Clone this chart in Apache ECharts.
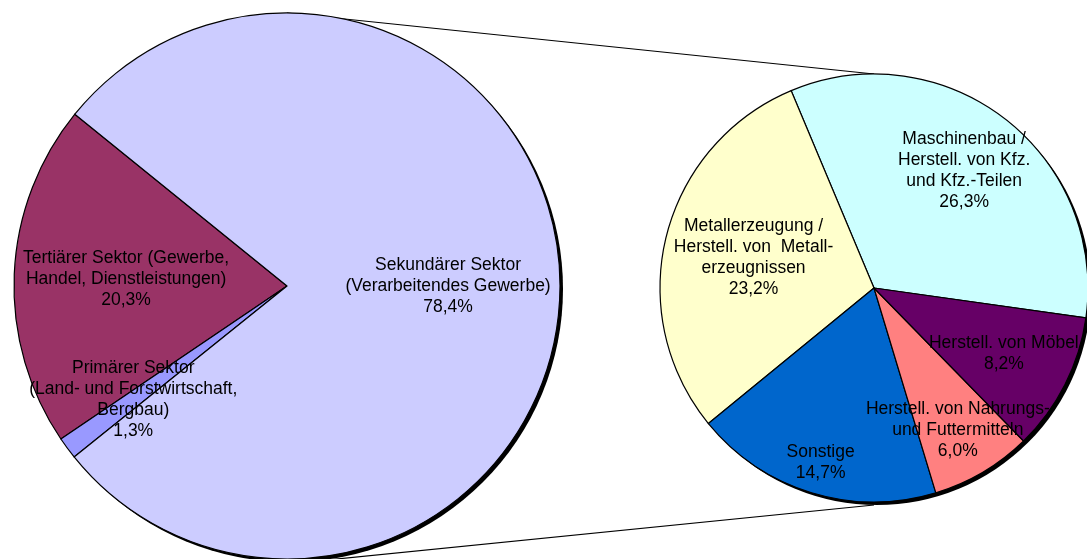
<!DOCTYPE html>
<html>
<head>
<meta charset="utf-8">
<script src="https://cdn.jsdelivr.net/npm/echarts@6/dist/echarts.min.js"></script>
<style>
  html, body { margin: 0; padding: 0; background: #fff; }
  #chart { width: 1087px; height: 559px; }
</style>
</head>
<body>
<div id="chart"></div>
<script>
// Gesamt: Anteile der Sektoren
const sectorNames = [
  "Tertiärer Sektor (Gewerbe,\nHandel, Dienstleistungen)",
  "Primärer Sektor\n(Land- und Forstwirtschaft,\nBergbau)",
  "Sekundärer Sektor\n(Verarbeitendes Gewerbe)"
];
const sectorValues = [20.3, 1.3, 78.4];
const sectorColors = ["#993366", "#9999FF", "#CCCCFF"];

// Aufteilung des sekundaeren Sektors
const branchNames = [
  "Maschinenbau /\nHerstell. von Kfz.\nund Kfz.-Teilen",
  "Metallerzeugung /\nHerstell. von  Metall-\nerzeugnissen",
  "Sonstige",
  "Herstell. von Nahrungs-\nund Futtermitteln",
  "Herstell. von Möbel"
];
const branchValues = [26.3, 23.2, 14.7, 6.0, 8.2];
const branchColors = ["#CCFFFF", "#FFFFCC", "#0066CC", "#FF8080", "#660066"];

// layout
const left = { cx: 287, cy: 286, r: 273, start: 141 };
const right = { cx: 874, cy: 288, r: 214, start: -8 };
const sectorLabelRadius = [0.59, 0.70, 0.59];
const branchLabelRadius = [0.69, 0.58, 0.855, 0.77, 0.68];
const shadow = 3;

function fmt(v) {
  return v.toFixed(1).replace(".", ",") + "%";
}

// place labels like excel does: along the slice middle at a given radius
function labelPlacer(p, values, ratios) {
  const total = values.reduce((a, b) => a + b, 0);
  let a = p.start;
  const pts = values.map((v, i) => {
    const span = (v / total) * 360;
    const mid = ((a + span / 2) * Math.PI) / 180;
    a += span;
    return [p.cx + Math.cos(mid) * p.r * ratios[i], p.cy - Math.sin(mid) * p.r * ratios[i]];
  });
  return (params) => ({
    x: pts[params.dataIndex][0],
    y: pts[params.dataIndex][1],
    align: "center",
    verticalAlign: "middle"
  });
}

function shadowSeries(p, values) {
  return {
    type: "pie",
    silent: true,
    z: 1,
    center: [p.cx + shadow, p.cy + shadow],
    radius: p.r,
    label: { show: false },
    labelLine: { show: false },
    itemStyle: { color: "#000", borderWidth: 0 },
    data: [{ value: values.reduce((a, b) => a + b, 0), name: "" }]
  };
}

const labelStyle = {
  show: true,
  position: "inside",
  color: "#000",
  fontFamily: "Liberation Sans, Arial, sans-serif",
  fontSize: 17.5,
  lineHeight: 21,
  formatter: (p) => p.name + "\n" + fmt(p.value)
};

var chart = echarts.init(document.getElementById("chart"));
var option = {
  animation: false,
  backgroundColor: "#fff",
  graphic: [
    {
      type: "line",
      z: 0,
      shape: { x1: left.cx, y1: left.cy - left.r, x2: right.cx, y2: right.cy - right.r },
      style: { stroke: "#000", lineWidth: 1.2 }
    },
    {
      type: "line",
      z: 0,
      shape: {
        x1: left.cx, y1: left.cy + left.r + shadow + 2,
        x2: right.cx, y2: right.cy + right.r + shadow
      },
      style: { stroke: "#000", lineWidth: 1.2 }
    }
  ],
  series: [
    shadowSeries(left, sectorValues),
    shadowSeries(right, branchValues),
    {
      type: "pie",
      z: 2,
      center: [left.cx, left.cy],
      radius: left.r,
      startAngle: left.start,
      clockwise: false,
      label: labelStyle,
      labelLine: { show: false },
      labelLayout: labelPlacer(left, sectorValues, sectorLabelRadius),
      itemStyle: { borderColor: "#000", borderWidth: 1.2 },
      emphasis: { disabled: true },
      data: sectorNames.map((n, i) => ({
        name: n,
        value: sectorValues[i],
        itemStyle: { color: sectorColors[i] }
      }))
    },
    {
      type: "pie",
      z: 2,
      center: [right.cx, right.cy],
      radius: right.r,
      startAngle: right.start,
      clockwise: false,
      label: labelStyle,
      labelLine: { show: false },
      labelLayout: labelPlacer(right, branchValues, branchLabelRadius),
      itemStyle: { borderColor: "#000", borderWidth: 1.2 },
      emphasis: { disabled: true },
      data: branchNames.map((n, i) => ({
        name: n,
        value: branchValues[i],
        itemStyle: { color: branchColors[i] }
      }))
    }
  ]
};
chart.setOption(option);
</script>
</body>
</html>
